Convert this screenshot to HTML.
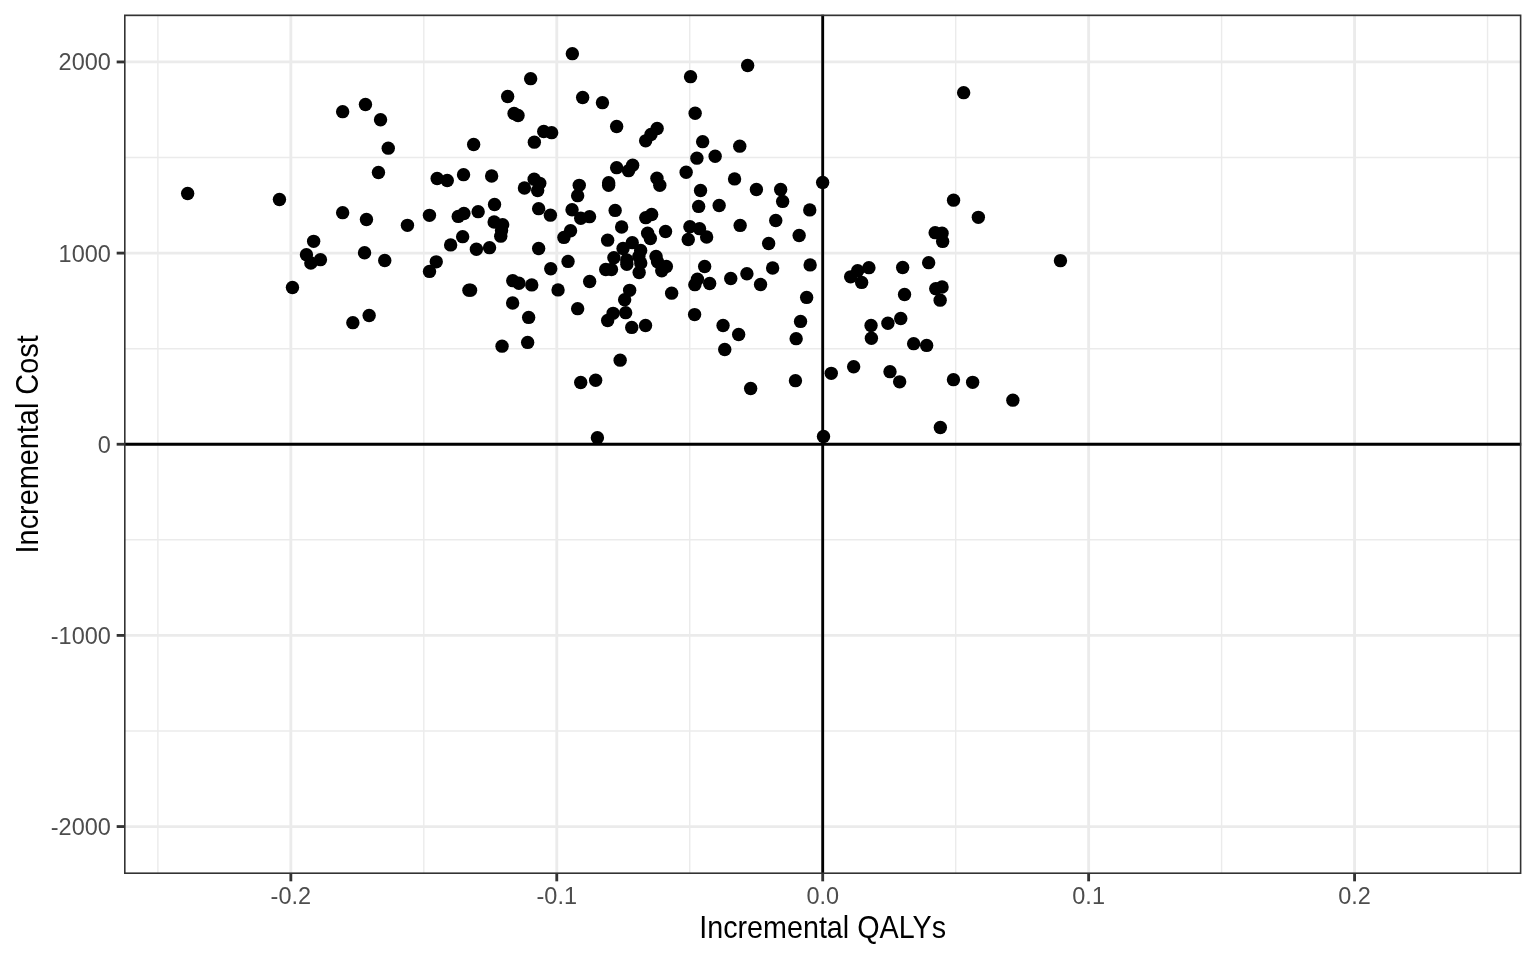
<!DOCTYPE html>
<html lang="en"><head><meta charset="utf-8"><title>Incremental Cost vs Incremental QALYs</title>
<style>html,body{margin:0;padding:0;background:#fff;}body{width:1536px;height:960px;overflow:hidden;}svg{display:block;}text{font-family:"Liberation Sans",Arial,Helvetica,sans-serif;}</style></head><body>
<svg width="1536" height="960" viewBox="0 0 1536 960">
<rect x="0" y="0" width="1536" height="960" fill="#ffffff"/>
<defs><clipPath id="panel"><rect x="124.00" y="14.58" width="1397.42" height="859.42"/></clipPath></defs>
<g clip-path="url(#panel)">
<g stroke="#ebebeb" stroke-width="1.42" fill="none">
<line x1="124.00" x2="1521.42" y1="730.97" y2="730.97"/>
<line x1="124.00" x2="1521.42" y1="539.83" y2="539.83"/>
<line x1="124.00" x2="1521.42" y1="348.68" y2="348.68"/>
<line x1="124.00" x2="1521.42" y1="157.53" y2="157.53"/>
<line x1="157.88" x2="157.88" y1="14.58" y2="874.00"/>
<line x1="423.81" x2="423.81" y1="14.58" y2="874.00"/>
<line x1="689.74" x2="689.74" y1="14.58" y2="874.00"/>
<line x1="955.67" x2="955.67" y1="14.58" y2="874.00"/>
<line x1="1221.60" x2="1221.60" y1="14.58" y2="874.00"/>
<line x1="1487.53" x2="1487.53" y1="14.58" y2="874.00"/>
</g>
<g stroke="#ebebeb" stroke-width="2.84" fill="none">
<line x1="124.00" x2="1521.42" y1="826.55" y2="826.55"/>
<line x1="124.00" x2="1521.42" y1="635.40" y2="635.40"/>
<line x1="124.00" x2="1521.42" y1="444.25" y2="444.25"/>
<line x1="124.00" x2="1521.42" y1="253.10" y2="253.10"/>
<line x1="124.00" x2="1521.42" y1="61.95" y2="61.95"/>
<line x1="290.84" x2="290.84" y1="14.58" y2="874.00"/>
<line x1="556.77" x2="556.77" y1="14.58" y2="874.00"/>
<line x1="822.70" x2="822.70" y1="14.58" y2="874.00"/>
<line x1="1088.63" x2="1088.63" y1="14.58" y2="874.00"/>
<line x1="1354.56" x2="1354.56" y1="14.58" y2="874.00"/>
</g>
<g fill="#000000">
<circle cx="187.65" cy="193.45" r="6.70"/>
<circle cx="279.45" cy="199.45" r="6.70"/>
<circle cx="342.65" cy="111.65" r="6.70"/>
<circle cx="365.45" cy="104.55" r="6.70"/>
<circle cx="380.55" cy="119.75" r="6.70"/>
<circle cx="388.25" cy="148.15" r="6.70"/>
<circle cx="378.45" cy="172.45" r="6.70"/>
<circle cx="342.65" cy="212.65" r="6.70"/>
<circle cx="366.45" cy="219.45" r="6.70"/>
<circle cx="407.45" cy="225.35" r="6.70"/>
<circle cx="313.65" cy="241.35" r="6.70"/>
<circle cx="306.45" cy="254.65" r="6.70"/>
<circle cx="320.45" cy="259.65" r="6.70"/>
<circle cx="310.85" cy="263.05" r="6.70"/>
<circle cx="364.55" cy="252.75" r="6.70"/>
<circle cx="384.75" cy="260.45" r="6.70"/>
<circle cx="292.45" cy="287.45" r="6.70"/>
<circle cx="369.15" cy="315.45" r="6.70"/>
<circle cx="352.85" cy="322.65" r="6.70"/>
<circle cx="572.35" cy="53.65" r="6.70"/>
<circle cx="530.65" cy="78.65" r="6.70"/>
<circle cx="507.65" cy="96.55" r="6.70"/>
<circle cx="514.05" cy="113.55" r="6.70"/>
<circle cx="518.05" cy="115.45" r="6.70"/>
<circle cx="582.65" cy="97.45" r="6.70"/>
<circle cx="602.45" cy="102.65" r="6.70"/>
<circle cx="543.75" cy="131.45" r="6.70"/>
<circle cx="551.65" cy="132.65" r="6.70"/>
<circle cx="534.35" cy="142.15" r="6.70"/>
<circle cx="473.65" cy="144.55" r="6.70"/>
<circle cx="437.15" cy="178.55" r="6.70"/>
<circle cx="447.25" cy="180.55" r="6.70"/>
<circle cx="463.55" cy="174.65" r="6.70"/>
<circle cx="491.65" cy="175.95" r="6.70"/>
<circle cx="524.45" cy="188.05" r="6.70"/>
<circle cx="534.15" cy="179.25" r="6.70"/>
<circle cx="539.75" cy="183.35" r="6.70"/>
<circle cx="537.65" cy="190.55" r="6.70"/>
<circle cx="579.25" cy="185.35" r="6.70"/>
<circle cx="577.65" cy="195.65" r="6.70"/>
<circle cx="608.65" cy="182.65" r="6.70"/>
<circle cx="608.65" cy="185.35" r="6.70"/>
<circle cx="429.45" cy="215.35" r="6.70"/>
<circle cx="458.25" cy="216.40" r="6.70"/>
<circle cx="463.90" cy="213.55" r="6.70"/>
<circle cx="478.15" cy="211.65" r="6.70"/>
<circle cx="494.55" cy="204.55" r="6.70"/>
<circle cx="494.15" cy="222.05" r="6.70"/>
<circle cx="502.65" cy="224.75" r="6.70"/>
<circle cx="500.75" cy="236.15" r="6.70"/>
<circle cx="538.65" cy="208.65" r="6.70"/>
<circle cx="550.40" cy="215.15" r="6.70"/>
<circle cx="572.05" cy="209.75" r="6.70"/>
<circle cx="580.75" cy="218.25" r="6.70"/>
<circle cx="589.55" cy="216.65" r="6.70"/>
<circle cx="462.65" cy="236.65" r="6.70"/>
<circle cx="450.65" cy="244.90" r="6.70"/>
<circle cx="476.40" cy="249.25" r="6.70"/>
<circle cx="489.55" cy="247.65" r="6.70"/>
<circle cx="538.65" cy="248.55" r="6.70"/>
<circle cx="570.55" cy="230.75" r="6.70"/>
<circle cx="563.90" cy="237.40" r="6.70"/>
<circle cx="607.65" cy="240.15" r="6.70"/>
<circle cx="436.25" cy="261.85" r="6.70"/>
<circle cx="429.50" cy="271.40" r="6.70"/>
<circle cx="550.75" cy="268.75" r="6.70"/>
<circle cx="568.05" cy="261.40" r="6.70"/>
<circle cx="468.95" cy="290.15" r="6.70"/>
<circle cx="470.55" cy="290.15" r="6.70"/>
<circle cx="512.75" cy="280.65" r="6.70"/>
<circle cx="518.90" cy="283.25" r="6.70"/>
<circle cx="531.75" cy="284.90" r="6.70"/>
<circle cx="558.05" cy="289.90" r="6.70"/>
<circle cx="589.65" cy="281.55" r="6.70"/>
<circle cx="512.65" cy="303.05" r="6.70"/>
<circle cx="528.65" cy="317.40" r="6.70"/>
<circle cx="577.65" cy="308.65" r="6.70"/>
<circle cx="502.05" cy="346.15" r="6.70"/>
<circle cx="527.65" cy="342.40" r="6.70"/>
<circle cx="580.70" cy="382.55" r="6.70"/>
<circle cx="595.65" cy="380.25" r="6.70"/>
<circle cx="597.40" cy="437.65" r="6.70"/>
<circle cx="616.65" cy="126.45" r="6.70"/>
<circle cx="657.15" cy="128.45" r="6.70"/>
<circle cx="650.95" cy="134.45" r="6.70"/>
<circle cx="645.65" cy="140.85" r="6.70"/>
<circle cx="616.65" cy="167.65" r="6.70"/>
<circle cx="632.65" cy="165.25" r="6.70"/>
<circle cx="628.55" cy="170.65" r="6.70"/>
<circle cx="656.95" cy="178.15" r="6.70"/>
<circle cx="659.80" cy="185.25" r="6.70"/>
<circle cx="686.15" cy="172.25" r="6.70"/>
<circle cx="696.90" cy="158.15" r="6.70"/>
<circle cx="715.15" cy="156.25" r="6.70"/>
<circle cx="690.55" cy="76.65" r="6.70"/>
<circle cx="747.65" cy="65.55" r="6.70"/>
<circle cx="695.15" cy="113.25" r="6.70"/>
<circle cx="702.65" cy="141.65" r="6.70"/>
<circle cx="739.75" cy="146.15" r="6.70"/>
<circle cx="734.55" cy="178.90" r="6.70"/>
<circle cx="756.40" cy="189.55" r="6.70"/>
<circle cx="780.65" cy="189.55" r="6.70"/>
<circle cx="782.65" cy="201.40" r="6.70"/>
<circle cx="700.55" cy="190.55" r="6.70"/>
<circle cx="698.65" cy="206.40" r="6.70"/>
<circle cx="719.15" cy="205.55" r="6.70"/>
<circle cx="775.75" cy="220.45" r="6.70"/>
<circle cx="740.15" cy="225.40" r="6.70"/>
<circle cx="768.65" cy="243.45" r="6.70"/>
<circle cx="615.15" cy="210.40" r="6.70"/>
<circle cx="645.75" cy="217.65" r="6.70"/>
<circle cx="651.65" cy="214.55" r="6.70"/>
<circle cx="621.65" cy="227.05" r="6.70"/>
<circle cx="665.55" cy="231.55" r="6.70"/>
<circle cx="647.65" cy="233.25" r="6.70"/>
<circle cx="650.35" cy="238.45" r="6.70"/>
<circle cx="689.90" cy="226.65" r="6.70"/>
<circle cx="699.55" cy="228.65" r="6.70"/>
<circle cx="706.65" cy="237.05" r="6.70"/>
<circle cx="688.25" cy="239.55" r="6.70"/>
<circle cx="632.25" cy="242.65" r="6.70"/>
<circle cx="623.05" cy="248.45" r="6.70"/>
<circle cx="640.65" cy="250.55" r="6.70"/>
<circle cx="613.90" cy="257.65" r="6.70"/>
<circle cx="626.85" cy="264.35" r="6.70"/>
<circle cx="640.75" cy="263.05" r="6.70"/>
<circle cx="639.15" cy="272.45" r="6.70"/>
<circle cx="605.75" cy="269.55" r="6.70"/>
<circle cx="611.45" cy="269.55" r="6.70"/>
<circle cx="656.05" cy="256.40" r="6.70"/>
<circle cx="666.35" cy="266.40" r="6.70"/>
<circle cx="661.75" cy="270.75" r="6.70"/>
<circle cx="704.65" cy="266.55" r="6.70"/>
<circle cx="697.45" cy="279.15" r="6.70"/>
<circle cx="694.85" cy="284.65" r="6.70"/>
<circle cx="709.65" cy="283.55" r="6.70"/>
<circle cx="671.65" cy="293.15" r="6.70"/>
<circle cx="629.65" cy="290.35" r="6.70"/>
<circle cx="624.65" cy="299.65" r="6.70"/>
<circle cx="613.10" cy="313.35" r="6.70"/>
<circle cx="607.65" cy="320.55" r="6.70"/>
<circle cx="625.65" cy="312.65" r="6.70"/>
<circle cx="694.60" cy="314.60" r="6.70"/>
<circle cx="631.75" cy="327.40" r="6.70"/>
<circle cx="645.55" cy="325.55" r="6.70"/>
<circle cx="723.05" cy="325.45" r="6.70"/>
<circle cx="738.65" cy="334.55" r="6.70"/>
<circle cx="724.75" cy="349.55" r="6.70"/>
<circle cx="620.15" cy="360.15" r="6.70"/>
<circle cx="750.65" cy="388.50" r="6.70"/>
<circle cx="795.45" cy="380.65" r="6.70"/>
<circle cx="730.75" cy="278.45" r="6.70"/>
<circle cx="746.90" cy="273.75" r="6.70"/>
<circle cx="772.65" cy="268.05" r="6.70"/>
<circle cx="760.55" cy="284.55" r="6.70"/>
<circle cx="799.15" cy="235.45" r="6.70"/>
<circle cx="822.65" cy="182.40" r="6.70"/>
<circle cx="809.75" cy="209.90" r="6.70"/>
<circle cx="810.15" cy="264.90" r="6.70"/>
<circle cx="806.65" cy="297.40" r="6.70"/>
<circle cx="800.55" cy="321.40" r="6.70"/>
<circle cx="796.15" cy="338.65" r="6.70"/>
<circle cx="953.55" cy="200.15" r="6.70"/>
<circle cx="935.15" cy="232.65" r="6.70"/>
<circle cx="942.05" cy="233.25" r="6.70"/>
<circle cx="942.65" cy="241.40" r="6.70"/>
<circle cx="928.65" cy="262.65" r="6.70"/>
<circle cx="902.65" cy="267.55" r="6.70"/>
<circle cx="868.90" cy="267.65" r="6.70"/>
<circle cx="857.65" cy="270.75" r="6.70"/>
<circle cx="850.65" cy="276.85" r="6.70"/>
<circle cx="861.65" cy="282.40" r="6.70"/>
<circle cx="904.55" cy="294.55" r="6.70"/>
<circle cx="935.75" cy="288.65" r="6.70"/>
<circle cx="942.05" cy="287.05" r="6.70"/>
<circle cx="940.15" cy="300.15" r="6.70"/>
<circle cx="871.05" cy="325.55" r="6.70"/>
<circle cx="871.40" cy="338.25" r="6.70"/>
<circle cx="887.90" cy="323.25" r="6.70"/>
<circle cx="900.75" cy="318.55" r="6.70"/>
<circle cx="913.65" cy="343.65" r="6.70"/>
<circle cx="926.65" cy="345.40" r="6.70"/>
<circle cx="831.25" cy="373.35" r="6.70"/>
<circle cx="853.65" cy="366.75" r="6.70"/>
<circle cx="890.00" cy="371.65" r="6.70"/>
<circle cx="899.65" cy="381.85" r="6.70"/>
<circle cx="953.45" cy="379.65" r="6.70"/>
<circle cx="972.65" cy="382.35" r="6.70"/>
<circle cx="1012.85" cy="400.15" r="6.70"/>
<circle cx="940.35" cy="427.45" r="6.70"/>
<circle cx="823.50" cy="436.45" r="6.70"/>
<circle cx="963.65" cy="92.65" r="6.70"/>
<circle cx="978.35" cy="217.35" r="6.70"/>
<circle cx="1060.45" cy="260.65" r="6.70"/>
<circle cx="501.55" cy="230.55" r="6.70"/>
<circle cx="626.75" cy="259.95" r="6.70"/>
<circle cx="657.55" cy="261.85" r="6.70"/>
<circle cx="638.85" cy="256.55" r="6.70"/>
</g>
<g stroke="#000000" stroke-width="2.84" fill="none">
<line x1="124.00" x2="1521.42" y1="444.25" y2="444.25"/>
<line x1="822.70" x2="822.70" y1="14.58" y2="874.00"/>
</g>
<rect x="124.00" y="14.58" width="1397.42" height="859.42" fill="none" stroke="#333333" stroke-width="3.2"/>
</g>
<g stroke="#333333" stroke-width="2.84" fill="none">
<line x1="116.67" x2="124.00" y1="826.55" y2="826.55"/>
<line x1="116.67" x2="124.00" y1="635.40" y2="635.40"/>
<line x1="116.67" x2="124.00" y1="444.25" y2="444.25"/>
<line x1="116.67" x2="124.00" y1="253.10" y2="253.10"/>
<line x1="116.67" x2="124.00" y1="61.95" y2="61.95"/>
<line x1="290.84" x2="290.84" y1="874.00" y2="881.33"/>
<line x1="556.77" x2="556.77" y1="874.00" y2="881.33"/>
<line x1="822.70" x2="822.70" y1="874.00" y2="881.33"/>
<line x1="1088.63" x2="1088.63" y1="874.00" y2="881.33"/>
<line x1="1354.56" x2="1354.56" y1="874.00" y2="881.33"/>
</g>
<g fill="#4d4d4d" font-size="23.47">
<text x="110.80" y="835.00" text-anchor="end">-2000</text>
<text x="110.80" y="643.85" text-anchor="end">-1000</text>
<text x="110.80" y="452.70" text-anchor="end">0</text>
<text x="110.80" y="261.55" text-anchor="end">1000</text>
<text x="110.80" y="70.40" text-anchor="end">2000</text>
<text x="290.84" y="904.20" text-anchor="middle">-0.2</text>
<text x="556.77" y="904.20" text-anchor="middle">-0.1</text>
<text x="822.70" y="904.20" text-anchor="middle">0.0</text>
<text x="1088.63" y="904.20" text-anchor="middle">0.1</text>
<text x="1354.56" y="904.20" text-anchor="middle">0.2</text>
</g>
<text transform="translate(822.60,937.90) scale(0.979,1.065)" text-anchor="middle" font-size="29.33" fill="#000000">Incremental QALYs</text>
<text transform="translate(37.80,444.40) rotate(-90) scale(0.984,1.065)" text-anchor="middle" font-size="29.33" fill="#000000">Incremental Cost</text>
</svg></body></html>
